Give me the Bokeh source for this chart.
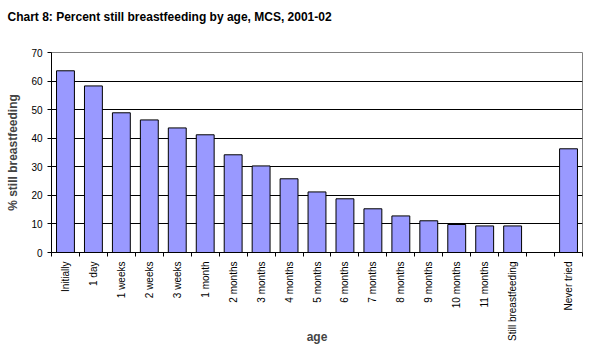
from bokeh.plotting import figure
from bokeh.models import FixedTicker, Range1d, ColumnDataSource, Title
from bokeh.embed import file_html
from bokeh.resources import INLINE
import numpy as np
import math

categories = ["Initially", "1 day", "1 weeks", "2 weeks", "3 weeks", "1 month",
              "2 months", "3 months", "4 months", "5 months", "6 months",
              "7 months", "8 months", "9 months", "10 months", "11 months",
              "Still breastfeeding", "", "Never tried"]
values = [63.6, 58.3, 48.9, 46.4, 43.6, 41.2, 34.2, 30.3, 25.8, 21.2, 18.8,
          15.3, 12.8, 11.1, 9.8, 9.3, 9.3, None, 36.3]
y_ticks = [0, 10, 20, 30, 40, 50, 60, 70]

FONT = "Liberation Sans"

pos = list(range(len(categories)))
src = ColumnDataSource(dict(x=pos, top=[np.nan if v is None else v for v in values]))

p = figure(width=589, height=356, output_backend="svg", toolbar_location=None,
           x_range=Range1d(-0.5, len(categories) - 0.5), y_range=Range1d(0, 70),
           min_border_left=51, min_border_right=7, min_border_top=52, min_border_bottom=104,
           title="Chart 8: Percent still breastfeeding by age, MCS, 2001-02")
p.title.align = "left"
p.title.offset = -44
p.title.standoff = 12
p.title.text_font = FONT
p.title.text_font_style = "bold"
p.title.text_font_size = "12px"
p.title.text_color = "black"
# spacer between title and plot area
p.add_layout(Title(text=" ", text_font_size="1px", standoff=20), "above")
p.background_fill_color = "white"
p.border_fill_color = "white"
p.outline_line_color = "#808080"

p.vbar(x="x", top="top", width=0.64, source=src, fill_color="#9999FF",
       line_color="black", line_width=1)

# x axis
xa = p.xaxis[0]
xa.ticker = FixedTicker(ticks=pos, minor_ticks=[i - 0.5 for i in range(len(categories) + 1)])
xa.major_label_overrides = {i: c for i, c in enumerate(categories)}
xa.major_label_orientation = math.pi / 2
xa.major_tick_out = 0
xa.major_tick_in = 0
xa.minor_tick_out = 4
xa.minor_tick_in = 0
xa.minor_tick_line_color = "black"
xa.axis_line_color = "black"
xa.major_label_text_font = FONT
xa.major_label_text_font_size = "10px"
xa.major_label_text_color = "black"
xa.major_label_standoff = 5
xa.axis_label = "age"
xa.axis_label_text_font = FONT
xa.axis_label_text_font_style = "bold"
xa.axis_label_text_font_size = "12px"
xa.axis_label_standoff = -14

# y axis
ya = p.yaxis[0]
ya.ticker = FixedTicker(ticks=y_ticks, minor_ticks=[])
ya.major_tick_out = 4
ya.major_tick_in = 0
ya.axis_line_color = "black"
ya.major_label_text_font = FONT
ya.major_label_text_font_size = "10px"
ya.major_label_text_color = "black"
ya.major_label_standoff = 5
ya.axis_label = "% still breastfeeding"
ya.axis_label_text_font = FONT
ya.axis_label_text_font_style = "bold"
ya.axis_label_text_font_size = "12px"
ya.axis_label_standoff = 8

p.xgrid.visible = False
p.ygrid.ticker = FixedTicker(ticks=y_ticks[1:-1])
p.ygrid.grid_line_color = "black"
p.ygrid.grid_line_width = 1

open("out.html", "w").write(file_html(p, INLINE))
